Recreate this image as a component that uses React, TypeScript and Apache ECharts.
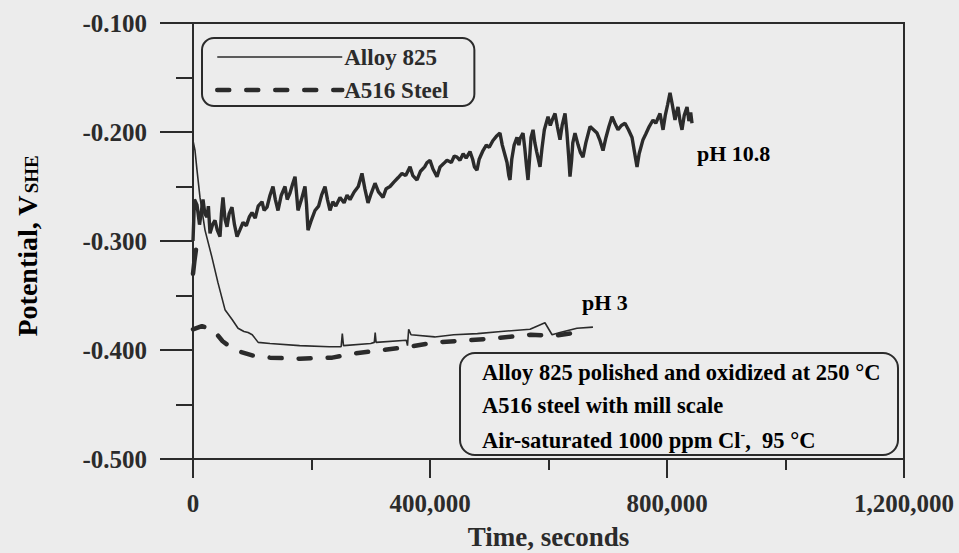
import React, { useEffect, useRef } from "react";
import * as echarts from "echarts";

const INK = "#2b2b2b";
const PAPER = "#ececec";
const SERIF = "'Liberation Serif', 'Times New Roman', serif";

// Time (s) / potential (V vs SHE) pairs for each run
const alloyPh3: [number, number][] = [
  [0, -0.208], [3400, -0.217], [6750, -0.235], [11800, -0.26], [20250, -0.29],
  [32000, -0.315], [42000, -0.338], [54000, -0.363], [66000, -0.372], [76000, -0.38],
  [86000, -0.383], [93000, -0.384], [100000, -0.386], [110000, -0.393], [130000, -0.394],
  [180000, -0.396], [230000, -0.397], [250000, -0.397], [252000, -0.385], [254000, -0.396],
  [300000, -0.394], [306000, -0.393], [307500, -0.384], [309000, -0.393], [360000, -0.391],
  [362000, -0.396], [364000, -0.381], [368000, -0.386], [408000, -0.388], [440000, -0.386],
  [480000, -0.385], [520000, -0.383], [568800, -0.381], [594000, -0.375], [606000, -0.386],
  [619400, -0.384], [648000, -0.38], [675000, -0.379],
];

const steelPh3: [number, number][] = [
  [0, -0.381], [15000, -0.378], [35000, -0.382], [50000, -0.392], [70000, -0.4],
  [100000, -0.405], [130000, -0.407], [180000, -0.408], [235000, -0.407], [275000, -0.403],
  [320000, -0.4], [365000, -0.397], [410000, -0.393], [468000, -0.391], [515000, -0.389],
  [570000, -0.386], [610000, -0.387], [660000, -0.383],
];

const alloyPh108: [number, number][] = [
  [0, -0.3], [2500, -0.262], [6750, -0.267], [11000, -0.285], [16900, -0.262],
  [20000, -0.275], [23600, -0.278], [26000, -0.268], [28700, -0.293], [33000, -0.285],
  [37100, -0.281], [41000, -0.29], [45600, -0.296], [48000, -0.275], [50600, -0.26],
  [54000, -0.28], [57400, -0.287], [61000, -0.275], [65800, -0.269], [70000, -0.285],
  [74300, -0.296], [79000, -0.29], [84400, -0.283], [90000, -0.286], [95000, -0.278],
  [99600, -0.274], [105000, -0.279], [110000, -0.268], [116500, -0.264], [120000, -0.272],
  [124900, -0.269], [130000, -0.258], [135000, -0.25], [139000, -0.262], [143500, -0.272],
  [149000, -0.258], [155300, -0.25], [159000, -0.262], [163700, -0.256], [168000, -0.248],
  [172200, -0.241], [175000, -0.258], [177200, -0.272], [183000, -0.262], [189000, -0.25],
  [191500, -0.266], [194100, -0.29], [199000, -0.282], [205900, -0.272], [212000, -0.268],
  [217000, -0.258], [222800, -0.25], [227000, -0.262], [231200, -0.272], [236000, -0.264],
  [241000, -0.268], [248100, -0.26], [255000, -0.265], [260000, -0.258], [265000, -0.262],
  [272000, -0.255], [279000, -0.25], [285200, -0.238], [290000, -0.252], [295400, -0.265],
  [301000, -0.256], [307200, -0.247], [313000, -0.255], [320700, -0.26], [326000, -0.252],
  [332500, -0.25], [339000, -0.246], [346000, -0.242], [352700, -0.238], [359000, -0.24],
  [366300, -0.232], [371000, -0.24], [378100, -0.244], [384000, -0.236], [391000, -0.232],
  [395000, -0.228], [400000, -0.226], [405000, -0.234], [411800, -0.241], [417000, -0.232],
  [423000, -0.229], [428700, -0.226], [436000, -0.228], [441000, -0.222], [445600, -0.223],
  [450600, -0.226], [456000, -0.22], [461000, -0.224], [467500, -0.218], [472000, -0.225],
  [475000, -0.232], [479300, -0.235], [483000, -0.225], [489500, -0.217], [495000, -0.212],
  [500000, -0.214], [506000, -0.208], [512000, -0.204], [518100, -0.201], [522000, -0.212],
  [527000, -0.222], [530000, -0.228], [533000, -0.24], [535000, -0.244], [538000, -0.225],
  [542000, -0.212], [546800, -0.205], [550000, -0.212], [552000, -0.206], [557000, -0.201],
  [560000, -0.215], [563000, -0.232], [565400, -0.244], [568000, -0.225], [570500, -0.205],
  [573900, -0.198], [577000, -0.21], [580000, -0.218], [585700, -0.232], [589000, -0.215],
  [593000, -0.198], [599200, -0.186], [603000, -0.194], [607000, -0.188], [611000, -0.183],
  [615000, -0.195], [619400, -0.207], [623000, -0.194], [627900, -0.183], [631000, -0.2],
  [634000, -0.222], [636300, -0.241], [639000, -0.226], [641000, -0.21], [644700, -0.201],
  [650000, -0.212], [654000, -0.219], [658200, -0.223], [663000, -0.21], [670100, -0.195],
  [676000, -0.198], [681900, -0.201], [687000, -0.208], [692000, -0.217], [697000, -0.205],
  [702000, -0.195], [707200, -0.186], [712000, -0.192], [717300, -0.198], [723000, -0.194],
  [729100, -0.192], [735000, -0.198], [741000, -0.205], [745000, -0.218], [749400, -0.232],
  [753000, -0.22], [759500, -0.207], [764000, -0.202], [770000, -0.195], [776400, -0.189],
  [781000, -0.192], [788200, -0.183], [793300, -0.198], [797000, -0.185], [801000, -0.175],
  [805100, -0.164], [809000, -0.175], [813500, -0.189], [816000, -0.182], [818600, -0.177],
  [822000, -0.19], [825300, -0.198], [829000, -0.185], [833800, -0.177], [837000, -0.19],
  [840000, -0.182], [842200, -0.192],
];

const steelPh108: [number, number][] = [
  [0, -0.33], [2500, -0.318], [5000, -0.308],
];

const seriesNames = ["Alloy 825", "A516 Steel"];
const xTickLabels: Record<number, string> = {
  0: "0",
  400000: "400,000",
  800000: "800,000",
  1200000: "1,200,000",
};
const noteLines = [
  "Alloy 825 polished and oxidized at 250 °C",
  "A516 steel with mill scale",
  "Air-saturated 1000 ppm Cl{sup|-},  95 °C",
];
const phLabels = ["pH 10.8", "pH 3"];

const textBase = {
  fontFamily: SERIF,
  fontWeight: "bold" as const,
  color: INK,
};

export default function App() {
  const ref = useRef<HTMLDivElement>(null);

  useEffect(() => {
    if (!ref.current) return;
    const chart = echarts.init(ref.current, undefined, { renderer: "svg" });

    const solid = (width: number) => ({ color: INK, width, type: "solid" as const });
    const dashed = { color: INK, width: 4.5, type: [12, 17], cap: "round" as const };

    chart.setOption({
      animation: false,
      backgroundColor: PAPER,
      grid: {
        left: 193,
        right: 55,
        top: 23,
        bottom: 94,
        outerBoundsMode: "none",
        containLabel: false,
        show: true,
        borderColor: INK,
        borderWidth: 2,
        backgroundColor: "transparent",
      },
      legend: {
        data: [
          { name: seriesNames[0], lineStyle: { width: 1.6 } },
          { name: seriesNames[1], lineStyle: { width: 4.5, type: [12, 17] } },
        ],
        orient: "vertical",
        left: 202,
        top: 38,
        padding: [7, 26, 4, 13],
        itemWidth: 125,
        itemHeight: 14,
        itemGap: 9,
        borderColor: INK,
        borderWidth: 2,
        borderRadius: 12,
        selectedMode: false,
        itemStyle: { opacity: 0 },
        textStyle: { ...textBase, fontSize: 23, lineHeight: 24, padding: [0, 0, 0, -3] },
      },
      xAxis: {
        type: "value",
        min: 0,
        max: 1200000,
        interval: 400000,
        name: "Time, seconds",
        nameLocation: "middle",
        nameGap: 64,
        nameTextStyle: { ...textBase, fontSize: 27 },
        axisLine: { show: true, lineStyle: { color: INK, width: 2 } },
        axisTick: { show: true, length: 19, lineStyle: { color: INK, width: 2 } },
        minorTick: { show: true, splitNumber: 2, length: 11, lineStyle: { color: INK, width: 2 } },
        splitLine: { show: false },
        axisLabel: {
          ...textBase,
          fontSize: 25,
          margin: 32,
          formatter: (v: number) => xTickLabels[v] ?? String(v),
        },
      },
      yAxis: {
        type: "value",
        min: -0.5,
        max: -0.1,
        interval: 0.1,
        axisLine: { show: true, lineStyle: { color: INK, width: 2 } },
        axisTick: { show: true, length: 33, lineStyle: { color: INK, width: 2 } },
        minorTick: { show: true, splitNumber: 2, length: 17, lineStyle: { color: INK, width: 2 } },
        splitLine: { show: false },
        axisLabel: {
          ...textBase,
          fontSize: 25,
          margin: 46,
          formatter: (v: number) => v.toFixed(3),
        },
      },
      series: [
        {
          name: seriesNames[0],
          type: "line",
          data: alloyPh3,
          symbol: "none",
          lineStyle: solid(1.6),
          itemStyle: { color: INK },
        },
        {
          name: seriesNames[1],
          type: "line",
          data: steelPh3,
          symbol: "none",
          lineStyle: dashed,
          itemStyle: { color: INK },
        },
        {
          name: seriesNames[0],
          type: "line",
          data: alloyPh108,
          symbol: "none",
          lineStyle: solid(3.4),
          itemStyle: { color: INK },
        },
        {
          name: seriesNames[1],
          type: "line",
          data: steelPh108,
          symbol: "none",
          lineStyle: { ...dashed, type: "solid" },
          itemStyle: { color: INK },
        },
      ],
      graphic: [
        {
          type: "text",
          x: 25,
          y: 246,
          rotation: Math.PI / 2,
          style: {
            text: "{m|Potential, V}{s|SHE}",
            align: "center",
            verticalAlign: "middle",
            rich: {
              m: { ...textBase, fontSize: 28, lineHeight: 32, verticalAlign: "bottom" },
              s: { ...textBase, fontSize: 19, lineHeight: 32, verticalAlign: "bottom", padding: [0, 0, 0, 2] },
            },
          },
        },
        {
          type: "rect",
          shape: { x: 460, y: 353, width: 438, height: 102, r: 15 },
          style: { fill: "none", stroke: INK, lineWidth: 2 },
          z: 10,
        },
        ...noteLines.map((line, i) => ({
          type: "text",
          x: 482,
          y: [372, 405, 440][i],
          style: {
            text: line,
            ...textBase,
            fontSize: 22.5,
            verticalAlign: "middle",
            rich: {
              sup: { ...textBase, fontSize: 14, lineHeight: 26, verticalAlign: "top" },
            },
          },
          z: 10,
        })),
        {
          type: "text",
          x: 697,
          y: 153,
          style: { text: phLabels[0], ...textBase, fontSize: 22, verticalAlign: "middle" },
        },
        {
          type: "text",
          x: 582,
          y: 302,
          style: { text: phLabels[1], ...textBase, fontSize: 22, verticalAlign: "middle" },
        },
      ],
    });

    return () => chart.dispose();
  }, []);

  return (
    <div
      ref={ref}
      style={{ position: "fixed", left: 0, top: 0, width: 959, height: 553, background: PAPER }}
    />
  );
}
